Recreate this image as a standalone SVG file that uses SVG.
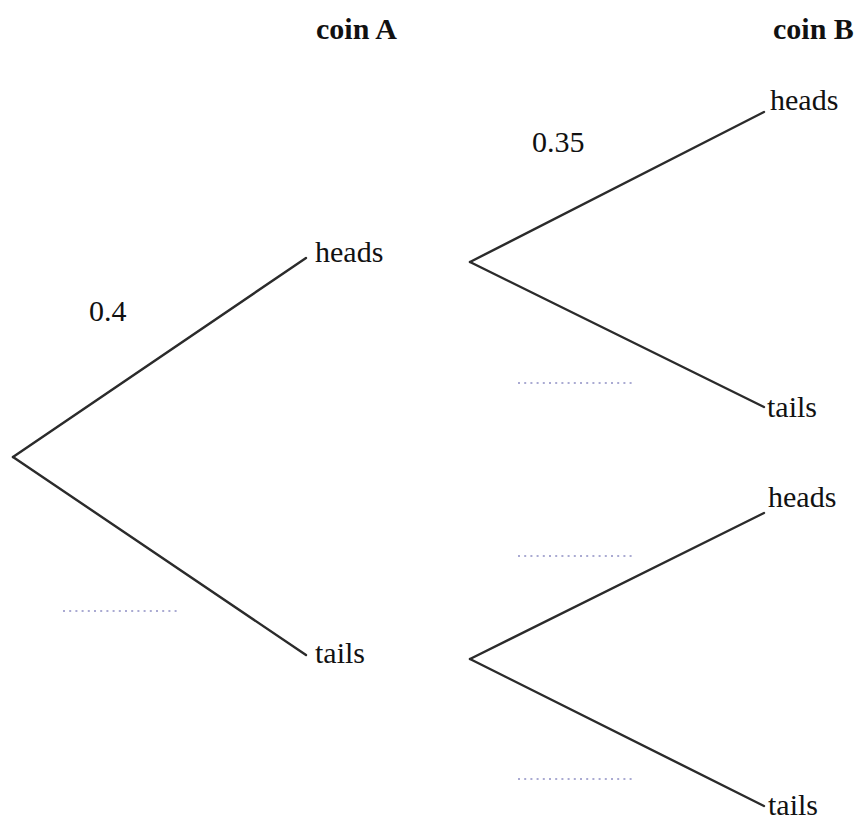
<svg xmlns="http://www.w3.org/2000/svg" width="866" height="820" viewBox="0 0 866 820">
  <style>
    .branch { stroke: #2b2b2b; stroke-width: 2.4; fill: none; stroke-linecap: round; }
    .blank { stroke: #8e8fc4; stroke-width: 1.6; stroke-dasharray: 2 4.2; fill: none; }
    text { font-family: 'Liberation Serif', 'DejaVu Serif', serif; font-size: 30px; fill: #111; }
    .head { font-weight: bold; }
  </style>
  <rect width="866" height="820" fill="#fff"/>

  <!-- column headings -->
  <text class="head" x="316" y="39" font-family="Liberation Serif, serif">coin A</text>
  <text class="head" x="773" y="39" font-family="Liberation Serif, serif">coin B</text>

  <!-- branches of the tree -->
  <g id="connectors">
    <line class="branch" x1="13" y1="457" x2="306" y2="258"/>
    <line class="branch" x1="13" y1="457" x2="306" y2="655"/>
    <line class="branch" x1="470" y1="262" x2="764" y2="112"/>
    <line class="branch" x1="470" y1="262" x2="764" y2="407"/>
    <line class="branch" x1="470" y1="659" x2="764" y2="513"/>
    <line class="branch" x1="470" y1="659" x2="764" y2="806"/>
  </g>

  <!-- first toss -->
  <g id="a-heads"><text x="315" y="262" font-family="Liberation Serif, serif">heads</text></g>
  <g id="a-tails"><text x="315" y="663" font-family="Liberation Serif, serif">tails</text></g>

  <!-- second toss -->
  <g id="b-heads-1"><text x="770" y="110" font-family="Liberation Serif, serif">heads</text></g>
  <g id="b-tails-1"><text x="767" y="417" font-family="Liberation Serif, serif">tails</text></g>
  <g id="b-heads-2"><text x="768" y="507" font-family="Liberation Serif, serif">heads</text></g>
  <g id="b-tails-2"><text x="768" y="815" font-family="Liberation Serif, serif">tails</text></g>

  <!-- probabilities -->
  <g id="p-a-heads"><text x="89" y="321" font-family="Liberation Serif, serif">0.4</text></g>
  <g id="p-b-heads"><text x="532" y="152" font-family="Liberation Serif, serif">0.35</text></g>

  <!-- blanks to fill in -->
  <g id="p-a-tails"><line class="blank" x1="63" y1="611" x2="177" y2="611"/></g>
  <g id="p-b-tails-1"><line class="blank" x1="518" y1="383" x2="632" y2="383"/></g>
  <g id="p-b-heads-2"><line class="blank" x1="518" y1="556" x2="632" y2="556"/></g>
  <g id="p-b-tails-2"><line class="blank" x1="518" y1="779" x2="632" y2="779"/></g>
</svg>
